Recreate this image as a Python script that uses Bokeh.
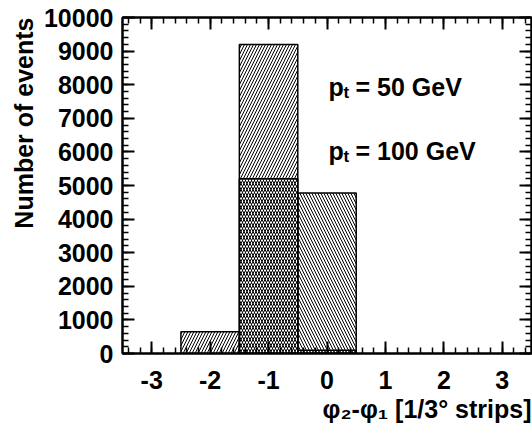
from bokeh.plotting import figure
from bokeh.models import (Range1d, SingleIntervalTicker, LinearAxis, Label, Title,
                          CustomJSTickFormatter, ColumnDataSource)
from bokeh.embed import file_html
from bokeh.resources import INLINE

# ---------------- data ----------------
bin_centers = [-3, -2, -1, 0, 1, 2, 3]
counts_pt50 = [0, 650, 9200, 100, 0, 0, 0]
counts_pt100 = [0, 0, 5200, 4780, 0, 0, 0]
legend_pt50 = "= 50 GeV"
legend_pt100 = "= 100 GeV"
y_title = "Number of events"
x_title = "\u03c6\u2082-\u03c6\u2081 [1/3\u00b0 strips]"

X_MIN, X_MAX = -3.5, 3.5
Y_MIN, Y_MAX = 0, 10000

# ---------------- layout ----------------
W, H = 532, 439
BL, BR, BT, BB = 122, 1, 17, 86
FL, FR = BL, W - BR
FT, FB = BT, H - BB


def dx(px):
    return X_MIN + (px - FL) * (X_MAX - X_MIN) / (FR - FL)


def dy(py):
    return Y_MIN + (FB - py) * (Y_MAX - Y_MIN) / (FB - FT)


p = figure(width=W, height=H, output_backend="svg", toolbar_location=None,
           x_range=Range1d(X_MIN, X_MAX), y_range=Range1d(Y_MIN, Y_MAX),
           min_border_left=BL, min_border_right=BR, min_border_top=BT,
           min_border_bottom=BB, x_axis_location=None, y_axis_location=None)
p.background_fill_color = "white"
p.border_fill_color = "white"
p.outline_line_color = "black"
p.outline_line_width = 2
p.xgrid.visible = False
p.ygrid.visible = False


def make_src(counts):
    xs = [c for c, v in zip(bin_centers, counts) if v > 0]
    vs = [v for v in counts if v > 0]
    return ColumnDataSource(dict(left=[c - 0.5 for c in xs],
                                 right=[c + 0.5 for c in xs],
                                 top=vs, bottom=[0] * len(vs)))


hs = 6
p.quad(left="left", right="right", top="top", bottom="bottom",
       source=make_src(counts_pt100), fill_color=None, line_color="black",
       line_width=1.5, hatch_pattern="\\", hatch_color="black",
       hatch_scale=hs, hatch_weight=1)
p.quad(left="left", right="right", top="top", bottom="bottom",
       source=make_src(counts_pt50), fill_color=None, line_color="black",
       line_width=1.5, hatch_pattern="/", hatch_color="black",
       hatch_scale=hs, hatch_weight=1)

FONT = "Liberation Sans"
blank = CustomJSTickFormatter(code="return ''")
plain = CustomJSTickFormatter(code="return tick.toFixed(0)")


def style_axis(ax, labels=True):
    ax.axis_line_color = "black"
    ax.axis_line_width = 2
    ax.major_tick_in = 12
    ax.major_tick_out = 0
    ax.minor_tick_in = 6
    ax.minor_tick_out = 0
    ax.major_tick_line_width = 2
    ax.minor_tick_line_width = 1.5
    ax.major_tick_line_color = "black"
    ax.minor_tick_line_color = "black"
    ax.major_label_text_font = FONT
    ax.major_label_text_font_style = "bold"
    ax.major_label_text_font_size = "25px"
    ax.major_label_text_color = "black"
    if labels:
        ax.formatter = plain
    else:
        ax.formatter = blank
        ax.major_label_standoff = 0
        ax.major_label_text_font_size = "0px"


xb = LinearAxis(ticker=SingleIntervalTicker(interval=1, num_minor_ticks=5))
style_axis(xb)
xb.major_label_standoff = 17
p.add_layout(xb, "below")
xt = LinearAxis(ticker=SingleIntervalTicker(interval=1, num_minor_ticks=5))
style_axis(xt, labels=False)
p.add_layout(xt, "above")
yl = LinearAxis(ticker=SingleIntervalTicker(interval=1000, num_minor_ticks=5))
style_axis(yl)
yl.major_label_standoff = 9
p.add_layout(yl, "left")
yr = LinearAxis(ticker=SingleIntervalTicker(interval=1000, num_minor_ticks=5))
style_axis(yr, labels=False)
p.add_layout(yr, "right")

# axis titles, right/top aligned as in the reference
p.add_layout(Title(text=x_title, align="right", text_font=FONT,
                   text_font_style="bold", text_font_size="25px",
                   text_color="black", standoff=2, offset=0), "below")
p.add_layout(Title(text=y_title, align="right", text_font=FONT,
                   text_font_style="bold", text_font_size="25px",
                   text_color="black", standoff=6, offset=0), "left")


def lab(text, px, py, size, align="left"):
    p.add_layout(Label(x=dx(px), y=dy(py), text=text, text_font=FONT,
                       text_font_style="bold", text_font_size=f"{size}px",
                       text_color="black", text_align=align,
                       text_baseline="alphabetic"))


# legend texts
for base, txt in ((86, legend_pt50), (150, legend_pt100)):
    lab("p", 328, base, 25)
    lab("t", 343, base + 6, 17)
    lab(txt, 355, base, 25)

open("out.html", "w").write(file_html(p, INLINE))
